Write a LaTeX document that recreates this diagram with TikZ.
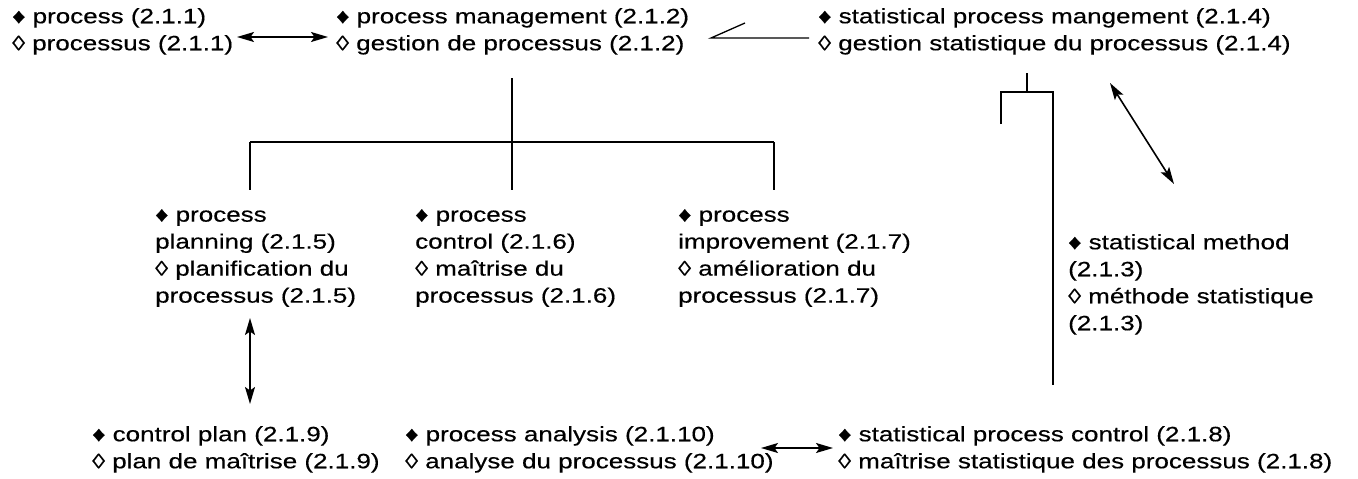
\documentclass[tikz,border=0pt]{standalone}
\usepackage{fontspec}
\setmainfont{Liberation Sans}[FakeStretch=1.25,FakeBold=0.4]
\usetikzlibrary{arrows.meta}
\begin{document}
\begin{tikzpicture}[x=1pt,y=-1pt,
  term/.style={anchor=north west,inner sep=0pt,align=left,
    font=\fontsize{20.8}{27}\selectfont},
  link/.style={line width=1.3pt},
  tip/.tip={Stealth[length=17pt,width=10pt,inset=3.5pt]},
  dblarrow/.style={line width=1.6pt,tip-tip}]
\useasboundingbox[fill=white] (0,0) rectangle (1358,479);

% top row
\node[term] (proc) at (12,8) {♦ process (2.1.1)\\◊ processus (2.1.1)};
\node[term] (pm) at (336,8) {♦ process management (2.1.2)\\◊ gestion de processus (2.1.2)};
\node[term] (spm) at (818,8) {♦ statistical process mangement (2.1.4)\\◊ gestion statistique du processus (2.1.4)};

% middle row
\node[term] (plan) at (155,209) {♦ process\\planning (2.1.5)\\◊ planification du\\processus (2.1.5)};
\node[term] (ctrl) at (415,209) {♦ process\\control (2.1.6)\\◊ maîtrise du\\processus (2.1.6)};
\node[term] (impr) at (678,209) {♦ process\\improvement (2.1.7)\\◊ amélioration du\\processus (2.1.7)};
\node[term] (sm) at (1068,234) {♦ statistical method\\(2.1.3)\\◊ méthode statistique\\(2.1.3)};

% bottom row
\node[term] (cp) at (92,426) {♦ control plan (2.1.9)\\◊ plan de maîtrise (2.1.9)};
\node[term] (pa) at (405,426) {♦ process analysis (2.1.10)\\◊ analyse du processus (2.1.10)};
\node[term] (spc) at (838,426) {♦ statistical process control (2.1.8)\\◊ maîtrise statistique des processus (2.1.8)};

% junction points
\coordinate (pmfoot) at (512,78);
\coordinate (split) at (512,142);
\coordinate (splitL) at (250,142);
\coordinate (splitR) at (774,142);
\coordinate (spmfoot) at (1027,73);
\coordinate (spmsplit) at (1027,92);
\coordinate (spmL) at (1001,92);
\coordinate (spmR) at (1053,92);
\coordinate (spmstub) at (1001,124);
\coordinate (slantA) at (745,23);
\coordinate (slantV) at (711,38);
\coordinate (slantB) at (809,38);

% associative links
\draw[dblarrow] (237,37) coordinate (procR) -- (328,37) coordinate (pmL);
\draw[dblarrow] (250,318) coordinate (planB) -- (250,404) coordinate (cpT);
\draw[dblarrow] (761,448) coordinate (paR) -- (833,448) coordinate (spcL);
\draw[dblarrow] (1110,83) coordinate (spmB) -- (1174,184) coordinate (smT);

% generic tree under process management
\draw[link] (pmfoot) -- (split);
\draw[link] (splitL) -- (splitR);
\draw[link] (splitL) -- (250,190) coordinate (planT);
\draw[link] (split) -- (512,190) coordinate (ctrlT);
\draw[link] (splitR) -- (774,190) coordinate (imprT);

% partitive link under statistical process management
\draw[link] (spmfoot) -- (spmsplit);
\draw[link] (spmstub) -- (spmL) -- (spmR) -- (1053,385) coordinate (spcT);

% relation mark between process management and SPM
\draw[link] (slantA) -- (slantV) -- (slantB);
\end{tikzpicture}
\end{document}
